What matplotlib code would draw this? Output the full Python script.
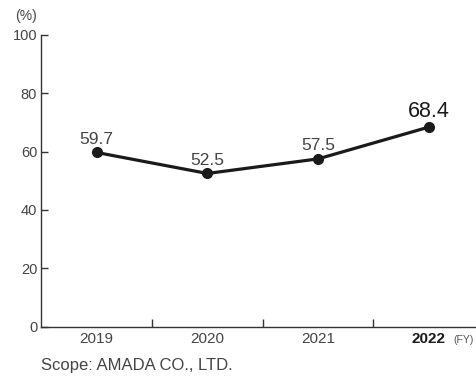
import matplotlib
matplotlib.use("Agg")
import matplotlib.pyplot as plt

plt.rcParams['font.family'] = ['Liberation Sans', 'DejaVu Sans']

years = ["2019", "2020", "2021", "2022"]
values = [59.7, 52.5, 57.5, 68.4]
yticks = [0, 20, 40, 60, 80, 100]

W, H = 477, 376
fig = plt.figure(figsize=(W / 100, H / 100), dpi=100)
left, right = 41.3, 477
bottom, top = 326.5, 35
ax = fig.add_axes([left / W, (H - bottom) / H, (right - left) / W, (bottom - top) / H])

x = list(range(len(years)))
unit = 110.7
ax.set_xlim(-0.5, -0.5 + (right - left) / unit)
ax.set_ylim(0, 100)

ax.plot(x, values, color="#1a1a1a", lw=2.3, marker="o", ms=7, zorder=3,
        solid_capstyle="round")

for i, v in enumerate(values):
    last = i == len(values) - 1
    ax.annotate(f"{v:.1f}", (i, v), xytext=(0, 7.2 if last else 6.3),
                textcoords="offset points", ha="center", va="baseline",
                fontsize=15.5 if last else 12.5,
                color="#1a1a1a" if last else "#444444")

for s in ["top", "right"]:
    ax.spines[s].set_visible(False)
for s in ["left", "bottom"]:
    ax.spines[s].set_color("#333333")
    ax.spines[s].set_linewidth(1.0)

ax.set_yticks(yticks)
ax.set_yticklabels([str(t) for t in yticks])
ax.tick_params(axis="y", direction="in", length=5, width=1, color="#333333",
               labelsize=10.5, labelcolor="#444444", pad=3)

ax.set_xticks([0.5, 1.5, 2.5])
ax.set_xticklabels([])
ax.tick_params(axis="x", which="major", direction="in", length=6, width=1,
               color="#333333")
ax.set_xticks(x, minor=True)
ax.set_xticklabels(years, minor=True)
ax.tick_params(axis="x", which="minor", length=0, labelsize=11,
               labelcolor="#444444", pad=4.3)
for lbl in ax.get_xticklabels(minor=True):
    if lbl.get_text() == "2022":
        lbl.set_fontweight("bold")
        lbl.set_color("#1a1a1a")

fig.text(26 / W, (H - 16) / H, "(%)", ha="center", va="center",
         fontsize=10, color="#444444")
fig.text(464 / W, (H - 343) / H, "(FY)", ha="center", va="baseline",
         fontsize=7.5, color="#555555")
fig.text(41 / W, (H - 370) / H, "Scope: AMADA CO., LTD.", ha="left",
         va="baseline", fontsize=12, color="#444444")

fig.savefig("out.png", dpi=100)
